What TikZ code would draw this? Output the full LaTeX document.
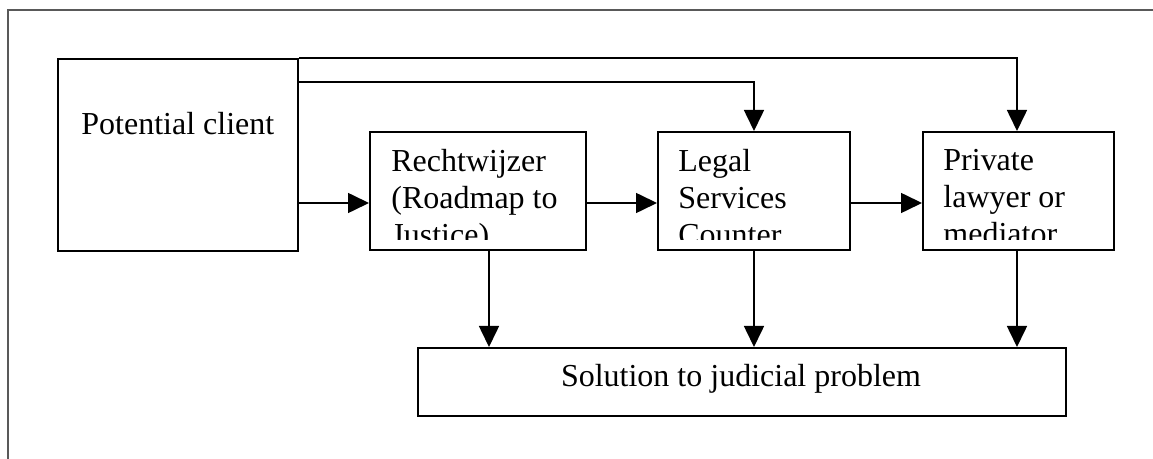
\documentclass[tikz,border=0pt]{standalone}
\usepackage{fontspec}
\setmainfont{Liberation Serif}
\usetikzlibrary{arrows.meta}
\begin{document}
\begin{tikzpicture}[x=0.5pt,y=-0.5pt,
           box_style/.style={draw=black,line width=0.9pt,anchor=north west,inner sep=0pt},
           text_style/.style={inner sep=0pt,align=left,font=\fontsize{16}{18.5}\selectfont},
           edge_style/.style={draw=black,line width=0.8pt,-{Triangle[length=10.5pt,width=10pt]}},
           frame_style/.style={draw=black!65,line width=0.6pt}]
            \useasboundingbox (0,0) rectangle (1153,459);
            \draw[frame_style] (8,459) -- (8,10) -- (1153,10);
            % boxes
            \node[box_style,minimum width=120pt,minimum height=96pt] (pc) at (57,58) {};
            \node[box_style,minimum width=108pt,minimum height=59pt] (rw) at (369,131) {};
            \node[box_style,minimum width=96pt,minimum height=59pt] (lg) at (657,131) {};
            \node[box_style,minimum width=95.5pt,minimum height=59pt] (pv) at (922,131) {};
            \node[box_style,minimum width=324pt,minimum height=34pt] (sol) at (417,347) {};
            % texts
            \node[text_style,anchor=base west] (pc_text) at (81,135) {Potential client};
            \node[text_style,anchor=base] (sol_text) at (741,387) {Solution to judicial problem};
            \begin{scope}
              \clip (rw.north west) rectangle ([yshift=5.5pt]rw.south east);
              \node[text_style,anchor=north west] (rw_text) at (391,149) {Rechtwijzer\\(Roadmap to\\Justice)};
            \end{scope}
            \begin{scope}
              \clip (lg.north west) rectangle ([yshift=5.5pt]lg.south east);
              \node[text_style,anchor=north west] (lg_text) at (678,149) {Legal\\Services\\Counter};
            \end{scope}
            \begin{scope}
              \clip (pv.north west) rectangle ([yshift=5.5pt]pv.south east);
              \node[text_style,anchor=north west] (pv_text) at (943,149) {Private\\lawyer or\\mediator};
            \end{scope}
            % levels
            \coordinate (row_mid) at (0,203);
            \coordinate (row_top) at (0,82);
            \coordinate (rw_down) at (489,0);
            \coordinate (lg_down) at (754,0);
            \coordinate (pv_down) at (1017,0);
            % connectors
            \draw[edge_style] (pc.north east) -| (pv.north -| pv_down);
            \draw[edge_style] (pc.east |- row_top) -| (lg.north -| lg_down);
            \draw[edge_style] (pc.east |- row_mid) -- (rw.west |- row_mid);
            \draw[edge_style] (rw.east |- row_mid) -- (lg.west |- row_mid);
            \draw[edge_style] (lg.east |- row_mid) -- (pv.west |- row_mid);
            \draw[edge_style] (rw.south -| rw_down) -- (sol.north -| rw_down);
            \draw[edge_style] (lg.south -| lg_down) -- (sol.north -| lg_down);
            \draw[edge_style] (pv.south -| pv_down) -- (sol.north -| pv_down);
        \end{tikzpicture}
\end{document}
